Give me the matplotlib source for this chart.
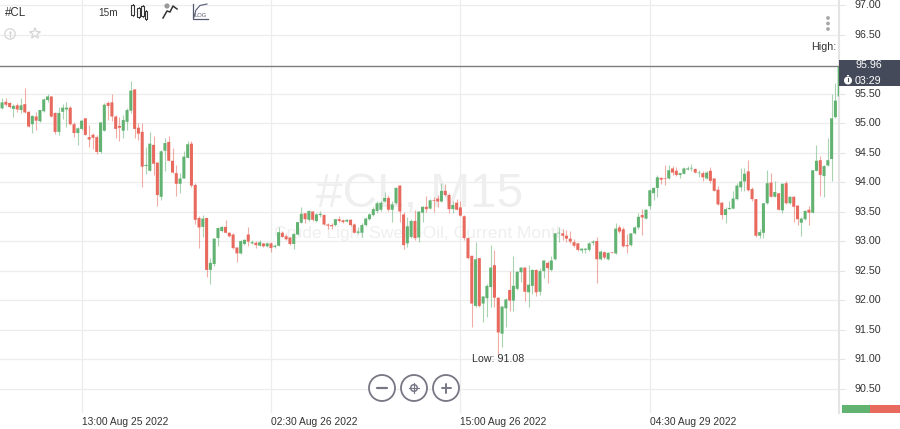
import numpy as np
import matplotlib
matplotlib.use("Agg")
import matplotlib.pyplot as plt
from matplotlib.patches import Circle, Rectangle, Polygon
from matplotlib.transforms import ScaledTranslation

plt.rcParams['font.family'] = ['Liberation Sans', 'DejaVu Sans']

opens = [95.25,95.36,95.34,95.24,95.30,95.22,95.32,95.19,94.98,95.11,95.03,95.20,95.39,95.45,95.17,94.85,95.19,95.23,95.26,94.98,
94.83,94.90,95.08,94.76,94.80,94.76,94.51,94.87,95.34,95.35,95.11,94.95,94.87,95.02,95.21,95.57,94.92,94.85,94.27,94.19,
94.63,94.33,93.75,94.53,94.68,94.36,94.15,93.97,94.06,94.41,94.65,93.95,93.39,93.24,93.39,92.51,92.61,93.05,93.17,93.24,
93.14,93.11,92.89,92.79,92.95,93.11,92.96,92.97,92.92,92.96,92.91,92.96,92.90,92.92,93.14,93.08,93.06,92.95,93.11,93.31,
93.47,93.36,93.50,93.34,93.44,93.44,93.28,93.27,93.27,93.37,93.35,93.33,93.36,93.28,93.14,93.14,93.27,93.37,93.44,93.51,
93.53,93.67,93.73,93.53,93.64,93.94,93.45,92.96,93.07,93.34,93.06,93.48,93.58,93.55,93.69,93.72,93.67,93.85,93.78,93.54,
93.65,93.57,93.42,93.05,92.75,91.90,92.71,91.94,92.03,92.22,92.59,92.04,91.43,91.86,92.17,91.99,92.19,92.47,92.55,92.13,
92.24,92.51,92.14,92.49,92.63,92.51,92.69,93.13,93.13,93.09,93.04,92.98,92.96,92.84,92.85,92.85,92.97,93.00,92.69,92.81,
92.69,92.81,92.79,93.23,93.20,92.93,92.93,93.13,93.23,93.44,93.38,93.59,93.81,93.90,94.07,94.06,94.06,94.23,94.19,94.12,
94.14,94.21,94.23,94.22,94.15,94.15,94.06,94.19,94.06,93.87,93.65,93.44,93.54,93.55,93.71,93.91,94.01,94.18,93.88,93.71,
93.09,93.14,93.64,93.99,93.75,93.81,93.52,93.98,93.64,93.75,93.60,93.31,93.37,93.53,93.48,94.19,94.37,94.10,94.28,94.39,
95.10,95.45]
highs = [95.42,95.42,95.35,95.32,95.34,95.42,95.60,95.20,95.14,95.19,95.22,95.42,95.50,95.46,95.19,95.27,95.32,95.36,95.28,95.02,
94.93,95.05,95.08,94.97,94.83,94.80,95.01,95.34,95.37,95.50,95.14,95.11,95.14,95.26,95.71,95.58,95.00,95.00,94.60,94.84,
94.78,94.33,94.54,94.74,94.78,94.57,94.29,94.15,94.52,94.69,94.69,93.98,93.43,93.44,93.39,92.71,93.05,93.23,93.26,93.36,
93.16,93.13,92.90,93.02,93.04,93.24,93.02,93.00,93.02,92.97,92.98,92.98,92.95,93.24,93.17,93.12,93.07,93.13,93.33,93.58,
93.48,93.53,93.51,93.47,93.51,93.45,93.30,93.30,93.38,93.42,93.37,93.37,93.37,93.30,93.23,93.30,93.40,93.47,93.57,93.67,
93.68,93.83,93.78,93.67,93.92,93.95,93.50,93.41,93.38,93.53,93.51,93.59,93.76,93.71,93.75,93.78,93.99,93.96,93.81,93.67,
93.71,93.68,93.44,93.06,92.75,92.99,92.72,92.07,92.27,92.94,92.84,92.04,91.90,92.03,92.49,92.75,92.49,92.56,92.56,92.59,
92.52,92.52,92.55,92.68,92.66,92.75,93.14,93.24,93.21,93.19,93.17,93.03,92.97,92.89,92.89,92.99,93.02,93.06,92.84,92.83,
92.82,92.82,93.31,93.27,93.23,93.12,93.14,93.25,93.47,93.54,93.54,93.88,93.92,94.12,94.09,94.29,94.29,94.27,94.26,94.16,
94.25,94.27,94.30,94.23,94.21,94.18,94.18,94.26,94.07,93.93,93.66,93.58,93.67,93.84,93.98,94.23,94.23,94.37,93.92,93.72,
93.21,93.65,94.20,94.15,94.01,93.82,93.99,94.02,93.76,93.76,93.61,93.40,93.53,93.59,94.21,94.63,94.44,94.29,94.74,95.50,
95.67,95.96]
lows = [95.24,95.29,95.25,95.11,95.18,95.17,95.17,94.93,94.83,94.89,95.02,95.19,95.36,95.10,94.81,94.80,95.06,94.94,94.97,94.77,
94.62,94.88,94.79,94.59,94.56,94.48,94.49,94.87,95.05,95.04,94.75,94.70,94.74,94.89,95.17,94.74,94.72,93.91,94.13,94.19,
94.12,93.60,93.69,94.18,94.35,94.15,93.76,93.82,94.06,94.40,93.92,93.29,92.88,93.06,92.39,92.27,92.57,92.91,93.16,93.13,
93.07,92.86,92.64,92.78,92.94,92.91,92.95,92.88,92.91,92.90,92.90,92.81,92.89,92.91,93.06,93.02,92.94,92.87,93.10,93.30,
93.30,93.34,93.34,93.33,93.41,93.27,93.20,93.20,93.26,93.32,93.31,93.32,93.26,93.13,93.12,93.06,93.26,93.36,93.43,93.47,
93.51,93.66,93.51,93.32,93.63,93.32,92.86,92.90,93.05,93.02,92.99,93.33,93.50,93.54,93.50,93.58,93.66,93.76,93.48,93.48,
93.53,93.43,93.02,92.69,91.55,91.89,91.89,91.62,91.72,91.88,91.89,91.07,91.21,91.55,91.82,91.82,92.17,92.31,91.98,91.89,
92.11,92.07,92.08,92.37,92.29,92.50,92.67,92.99,93.02,92.99,92.97,92.90,92.83,92.79,92.79,92.83,92.94,92.29,92.67,92.69,
92.68,92.79,92.78,93.14,92.90,92.79,92.92,93.12,93.21,93.10,93.37,93.55,93.69,93.74,93.97,93.95,94.05,94.12,94.11,94.06,
94.13,94.20,94.19,94.15,94.09,94.02,94.05,93.98,93.84,93.61,93.37,93.30,93.54,93.54,93.69,93.84,93.84,93.85,93.68,93.07,
93.05,93.05,93.63,93.74,93.74,93.52,93.48,93.63,93.63,93.33,93.27,93.09,93.36,93.27,93.47,94.18,93.76,93.75,94.27,94.02,
95.09,95.39]
closes = [95.35,95.31,95.27,95.29,95.23,95.30,95.18,94.94,95.12,95.04,95.22,95.40,95.45,95.11,94.85,95.17,95.26,95.26,94.98,94.83,
94.91,95.04,94.80,94.72,94.75,94.51,95.01,95.31,95.29,95.11,94.90,94.92,95.05,95.22,95.55,94.90,94.82,94.26,94.29,94.65,
94.31,93.78,94.52,94.66,94.36,94.16,93.97,94.06,94.43,94.64,93.94,93.36,93.23,93.38,92.51,92.63,93.04,93.22,93.24,93.14,
93.08,92.88,92.79,93.00,93.02,92.99,92.98,92.93,92.98,92.91,92.96,92.88,92.92,93.15,93.07,93.03,92.95,93.12,93.32,93.46,
93.37,93.51,93.36,93.45,93.46,93.28,93.26,93.25,93.37,93.34,93.32,93.36,93.27,93.14,93.16,93.27,93.38,93.45,93.54,93.64,
93.65,93.73,93.53,93.62,93.90,93.50,92.93,93.25,93.34,93.05,93.50,93.58,93.54,93.69,93.68,93.67,93.85,93.78,93.54,93.61,
93.53,93.43,93.05,92.71,91.94,92.69,91.90,92.06,92.24,92.55,92.04,91.45,91.89,92.01,91.99,92.24,92.48,92.55,92.14,92.26,
92.51,92.13,92.49,92.67,92.54,92.67,93.13,93.14,93.09,93.04,92.99,92.92,92.85,92.87,92.87,92.96,92.99,92.69,92.82,92.72,
92.80,92.80,93.21,93.16,92.91,92.91,93.13,93.23,93.41,93.40,93.53,93.86,93.90,94.08,94.04,94.05,94.20,94.16,94.12,94.15,
94.23,94.23,94.24,94.16,94.16,94.08,94.16,94.02,93.85,93.62,93.44,93.54,93.56,93.72,93.94,94.01,94.14,93.86,93.71,93.09,
93.15,93.64,93.98,93.75,93.83,93.53,93.97,93.64,93.75,93.58,93.37,93.38,93.51,93.48,94.20,94.36,94.12,94.27,94.37,95.08,
95.38,95.96]

price_ticks = [97.00,96.50,95.50,95.00,94.50,94.00,93.50,93.00,92.50,92.00,91.50,91.00,90.50]
time_tick_idx = [21,71,121,171]
time_tick_labels = ["13:00 Aug 25 2022","02:30 Aug 26 2022","15:00 Aug 26 2022","04:30 Aug 29 2022"]
last_price = 95.96
low_label = "Low: 91.08"
timer_text = "03:29"

GREEN = "#62B272"
RED = "#E8695E"
GRID = "#EDEDED"
TEXT = "#333333"

W, H = 900, 429
fig = plt.figure(figsize=(W/100, H/100), dpi=100, facecolor="white")
ax = fig.add_axes([0, (H-413)/H, 839/W, 413/H])
ax.set_xlim(-0.541, 220.95)
ax.set_ylim(90.085, 97.085)
ax.set_facecolor("white")
for s in ["top","left","bottom"]:
    ax.spines[s].set_visible(False)
ax.spines["right"].set_color("#E4E4E4")
ax.spines["right"].set_linewidth(1.5)

ax.yaxis.tick_right()
ax.set_yticks(price_ticks)
ax.set_yticklabels([f"{p:.2f}" for p in price_ticks], fontsize=7.7, color=TEXT, ha="left")
ax.tick_params(axis="y", length=4, color="#E4E4E4", pad=7)
shift = ScaledTranslation(0, 1/100, fig.dpi_scale_trans)
for lab in ax.get_yticklabels():
    lab.set_transform(lab.get_transform() + shift)
ax.set_xticks(time_tick_idx)
ax.set_xticklabels(time_tick_labels, fontsize=7.4, color=TEXT, ha="left")
ax.tick_params(axis="x", length=0, pad=3)
ax.grid(True, color=GRID, lw=0.9, zorder=0)
ax.set_axisbelow(True)

ax.text(0.5, 0.530, "#CL, M15", transform=ax.transAxes, ha="center", va="center",
        fontsize=34.5, color="#EFEFEF", zorder=1)
ax.text(0.5, 0.435, "Crude Light Sweet Oil, Current Month", transform=ax.transAxes, ha="center", va="center",
        fontsize=12.6, color="#EFEFEF", zorder=1)

o, h, l, c = map(np.array, (opens, highs, lows, closes))
x = np.arange(len(o))
up = c >= o
colors = np.where(up, GREEN, RED)
ax.vlines(x, l, h, colors=colors, lw=0.8, alpha=0.55, zorder=3)
bars = ax.bar(x, np.abs(c-o), bottom=np.minimum(o, c), width=0.8, color=colors, lw=0, zorder=4)
for b in bars:
    b.set_snap(False)

ax.axhline(last_price, color="#7D7D7D", lw=1.0, zorder=5)

# overlay in pixel space for UI furniture
ov = fig.add_axes([0, 0, 1, 1], facecolor="none")
ov.set_xlim(0, W); ov.set_ylim(H, 0); ov.axis("off")

ov.add_patch(Rectangle((839, 60), 61, 26, fc="#444A5A", ec="none"))
ov.text(869, 65.5, f"{last_price:.2f}", color="white", fontsize=7.7, ha="center", va="center")
ov.text(868, 81, timer_text, color="white", fontsize=7.7, ha="center", va="center")
ov.add_patch(Circle((848, 80.5), 4, fc="white", ec="none"))
ov.add_patch(Rectangle((846.7, 74.6), 2.6, 1.6, fc="white", ec="none"))
ov.plot([848, 848], [78, 81], color="#444A5A", lw=0.8)

ov.add_patch(Rectangle((842, 405), 28, 8, fc=GREEN, ec="none"))
ov.add_patch(Rectangle((870, 405), 30, 8, fc=RED, ec="none"))

ov.text(836, 47, "High:", color=TEXT, fontsize=7.7, ha="right", va="center")
ov.text(498, 358.5, low_label, color=TEXT, fontsize=7.7, ha="center", va="center")
ov.text(5, 13.5, "#CL", color=TEXT, fontsize=8.3, ha="left", va="center")
ov.text(108.5, 13, "15m", color="#333333", fontsize=7.2, ha="center", va="center")

# info + star icons
ov.add_patch(Circle((10, 34), 5.2, fc="none", ec="#D5D5D5", lw=0.9))
ov.plot([10, 10], [33, 36.5], color="#D5D5D5", lw=0.9)
ov.plot([10], [31.5], ".", color="#D5D5D5", ms=1.5)
star = [(35 + (5.8 if k % 2 == 0 else 2.4)*np.sin(k*np.pi/5), 33.5 - (5.8 if k % 2 == 0 else 2.4)*np.cos(k*np.pi/5)) for k in range(10)]
ov.add_patch(Polygon(star, closed=True, fc="none", ec="#D5D5D5", lw=0.9))

# candle icon
for cx, yt, yb in [(132.5, 5, 15), (138.5, 8, 17), (142.5, 6, 16), (146, 11, 19)]:
    ov.plot([cx, cx], [yt-1, yb+1], color="#333333", lw=0.6)
    ov.add_patch(Rectangle((cx-1.4, yt), 2.8, yb-yt, fc="white", ec="#333333", lw=0.8, zorder=3))

# line chart icon
ov.plot([163, 167, 170, 173, 177], [18, 11, 12, 6, 9], color="#333333", lw=1.1)
ov.add_patch(Circle((167, 6), 2.6, fc="#999999", ec="none"))

# log icon
ov.plot([192.5, 192.5, 208], [4, 18.5, 18.5], color="#555A70", lw=0.9)
ov.plot([194, 196, 200, 207], [17, 10, 5.5, 4], color="#555A70", lw=0.8)
ov.text(201, 15.5, "LOG", color="#555A70", fontsize=4.2, ha="center", va="center")

# three dots
for yy in [18, 23.5, 29]:
    ov.add_patch(Circle((828, yy), 1.9, fc="#A8A8A8", ec="none"))

# zoom buttons
BTN = "#777785"
for cx in [382, 414, 446]:
    ov.add_patch(Circle((cx, 388), 13, fc="white", ec=BTN, lw=1.3, zorder=6))
ov.plot([377, 387], [388, 388], color=BTN, lw=1.6, zorder=7, solid_capstyle="round")
ov.plot([441.5, 450.5], [388, 388], color=BTN, lw=1.4, zorder=7, solid_capstyle="round")
ov.plot([446, 446], [383.5, 392.5], color=BTN, lw=1.4, zorder=7, solid_capstyle="round")
ov.add_patch(Circle((414, 388), 3.3, fc="none", ec=BTN, lw=1.1, zorder=7))
ov.plot([414, 414], [383, 393], color=BTN, lw=0.8, zorder=7)
ov.plot([409, 419], [388, 388], color=BTN, lw=0.8, zorder=7)

fig.savefig("out.png", dpi=100, facecolor="white")
